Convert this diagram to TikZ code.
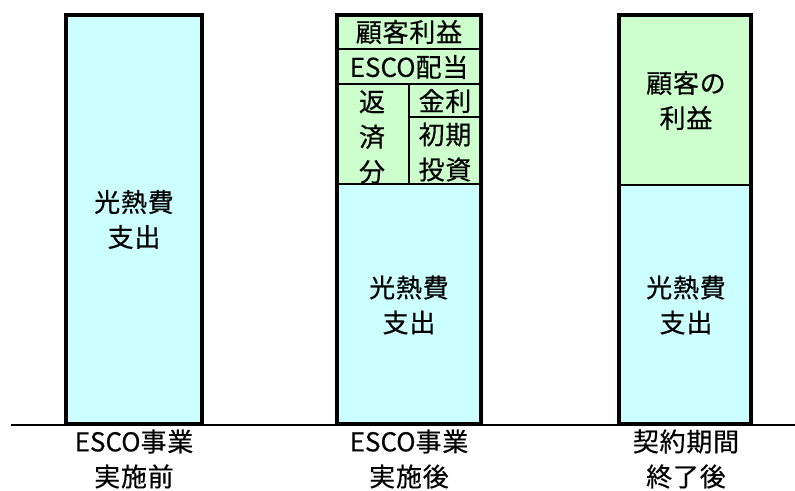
\documentclass[tikz,border=0pt]{standalone}
\usepackage{fontspec}
\setmainfont{Noto Sans CJK JP}[LetterSpace=3, FakeBold=0.4]
\newcommand{\latn}[1]{{\addfontfeature{LetterSpace=0}#1}}
\definecolor{cyanfill}{HTML}{CCFFFF}
\definecolor{greenfill}{HTML}{CCFFCC}
\begin{document}
\begin{tikzpicture}[x=1pt,y=-1pt,
  barbox/.style={line width=4pt},
  divline/.style={line width=2.5pt},
  lbl/.style={font=\fontsize{26}{35}\selectfont, align=center, inner sep=0pt},
  smalllbl/.style={font=\fontsize{26}{35}\selectfont, align=center, inner sep=0pt}]
\useasboundingbox (0,0) rectangle (795,490);
% baseline
\coordinate (bl) at (11,425);
\coordinate (br) at (795,425);
\draw[line width=2.2pt] (bl) -- (br);
% left bar
\fill[cyanfill] (66,15) rectangle (202,424);
\draw[barbox] (66,15) rectangle (202,424);
\node[lbl] (l1) at (134,219.5) {光熱費\\支出};
% middle bar
\fill[greenfill] (337,15) rectangle (481,184);
\fill[cyanfill] (337,184) rectangle (481,424);
\coordinate (m49l) at (337,49); \coordinate (m49r) at (481,49);
\coordinate (m84l) at (337,84); \coordinate (m84r) at (481,84);
\coordinate (m184l) at (337,184); \coordinate (m184r) at (481,184);
\coordinate (mvt) at (409,84); \coordinate (mvb) at (409,184);
\coordinate (m117l) at (409,117); \coordinate (m117r) at (481,117);
\draw[divline] (m49l) -- (m49r);
\draw[divline] (m84l) -- (m84r);
\draw[divline] (m184l) -- (m184r);
\draw[divline] (mvt) -- (mvb);
\draw[divline] (m117l) -- (m117r);
\draw[barbox] (337,15) rectangle (481,424);
\node[smalllbl] (m1) at (409,32) {顧客利益};
\node[smalllbl] (m2) at (409,67) {\latn{ESCO}配当};
\node[smalllbl] (m3) at (372,137) {返\\済\\分};
\node[smalllbl] (m4) at (445,101) {金利};
\node[smalllbl] (m5) at (445,152) {初期\\投資};
\node[lbl] (m6) at (409,305) {光熱費\\支出};
% right bar
\fill[greenfill] (619,15) rectangle (751,185);
\fill[cyanfill] (619,185) rectangle (751,424);
\coordinate (r185l) at (619,185); \coordinate (r185r) at (751,185);
\draw[divline] (r185l) -- (r185r);
\draw[barbox] (619,15) rectangle (751,424);
\node[lbl] (r1) at (686,100.5) {顧客の\\利益};
\node[lbl] (r2) at (686,305) {光熱費\\支出};
% bottom labels
\node[lbl] (b1) at (134,459) {\latn{ESCO}事業\\実施前};
\node[lbl] (b2) at (409,459) {\latn{ESCO}事業\\実施後};
\node[lbl] (b3) at (686,459) {契約期間\\終了後};
\end{tikzpicture}
\end{document}
